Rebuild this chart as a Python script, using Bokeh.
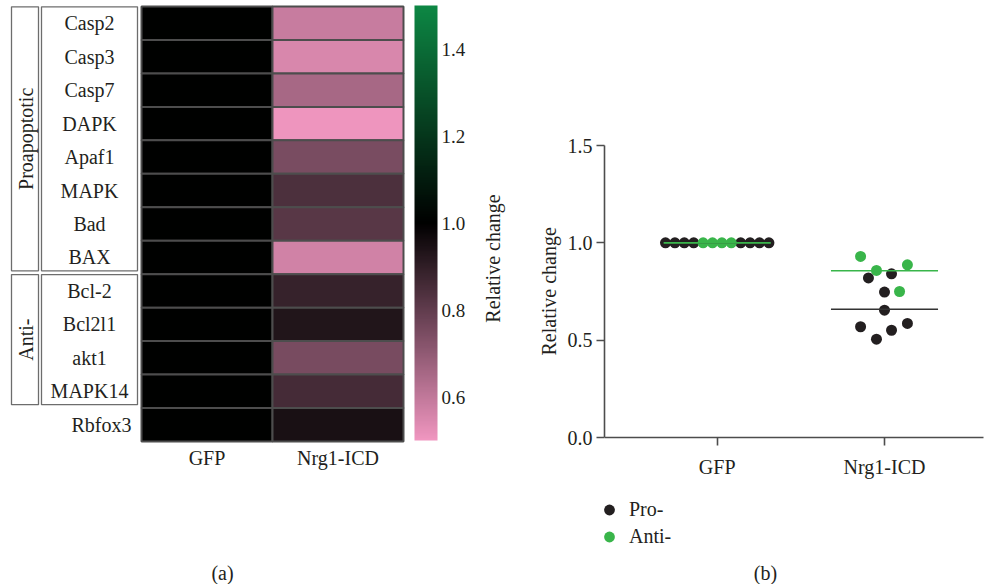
import numpy as np
from bokeh.plotting import figure
from bokeh.layouts import row
from bokeh.models import (Range1d, ColumnDataSource, LinearColorMapper, ColorBar,
                          FixedTicker, PrintfTickFormatter, Label, Title)
from bokeh.core.properties import value
from bokeh.embed import file_html
from bokeh.resources import INLINE

# ---------------- data ----------------
genes = ["Casp2", "Casp3", "Casp7", "DAPK", "Apaf1", "MAPK", "Bad", "BAX",
         "Bcl-2", "Bcl2l1", "akt1", "MAPK14", "Rbfox3"]
conditions = ["GFP", "Nrg1-ICD"]
heat_gfp = [1.0] * 13
heat_nrg = [0.586, 0.551, 0.654, 0.505, 0.747, 0.841, 0.820, 0.569,
            0.887, 0.930, 0.750, 0.858, 0.947]
groups = ["Proapoptotic", "Anti-"]
group_sizes = [8, 4]
cbar_ticks = [0.6, 0.8, 1.0, 1.2, 1.4]

pro_gfp = [1.0] * 8
anti_gfp = [1.0] * 4
pro_nrg = [0.820, 0.841, 0.747, 0.654, 0.569, 0.505, 0.551, 0.586]
anti_nrg = [0.930, 0.858, 0.887, 0.750]
# beeswarm offsets (in category widths)
pro_nrg_jitter = [-0.096, 0.042, 0.0, 0.0, -0.143, -0.048, 0.042, 0.137]
anti_nrg_jitter = [-0.143, -0.048, 0.137, 0.09]
y_ticks = [0.0, 0.5, 1.0, 1.5]

FONT = "Liberation Serif"
TXT = "#231f20"
H = 584

# ---------------- palette ----------------
pink = np.array([240, 150, 192])
green = np.array([13, 135, 68])
palette = []
for v in np.linspace(0.5, 1.5, 256):
    if v < 1:
        c = pink * ((1 - v) / 0.5)
    else:
        c = green * ((v - 1) / 0.5)
    c = np.clip(np.round(c), 0, 255).astype(int)
    palette.append("#%02x%02x%02x" % tuple(c))
mapper = LinearColorMapper(palette=palette, low=0.5, high=1.5)

# ---------------- (a) heatmap ----------------
WA = 508
CW = 131.0
X0 = 141.0          # left edge of heatmap (px)
Y0 = 6.0            # top edge of heatmap (px)
RH = 435.0 / 13     # row height (px)
p1 = figure(width=WA, height=H, output_backend="svg", toolbar_location=None,
            x_range=Range1d(-X0 / CW, (WA - X0) / CW),
            y_range=Range1d((H - Y0) / RH, -Y0 / RH),
            x_axis_location=None, y_axis_location=None,
            min_border=0, outline_line_color=None)
p1.grid.visible = False
p1.frame_align = False

def px2x(px):
    return (px - X0) / CW

def px2y(py):
    return (py - Y0) / RH

xs, ys, vals = [], [], []
for j, g in enumerate(genes):
    for i, col in enumerate([heat_gfp, heat_nrg]):
        xs.append(i + 0.5)
        ys.append(j + 0.5)
        vals.append(col[j])
src = ColumnDataSource(dict(x=xs, y=ys, v=vals))
p1.rect(x="x", y="y", width=1, height=1, source=src,
        fill_color={"field": "v", "transform": mapper},
        line_color="#4d4d4d", line_width=2)

# gene labels
nlab = sum(group_sizes)
p1.text(x=[px2x(89)] * nlab, y=[j + 0.5 for j in range(nlab)], text=genes[:nlab],
        text_align="center", text_baseline="middle", text_color=TXT,
        text_font=value(FONT), text_font_size=value("20px"))
p1.text(x=[px2x(131)], y=[nlab + 0.5], text=genes[nlab:],
        text_align="right", text_baseline="middle", text_color=TXT,
        text_font=value(FONT), text_font_size=value("20px"))

# group boxes
starts = np.cumsum([0] + group_sizes[:-1])
tops = [s + 0.01 for s in starts]
bots = [s + n - 0.1 for s, n in zip(starts, group_sizes)]
p1.quad(left=[px2x(11)] * 2, right=[px2x(38)] * 2, top=tops, bottom=bots,
        fill_color=None, line_color="#6d6d6d", line_width=1.3)
p1.quad(left=[px2x(41)] * 2, right=[px2x(137)] * 2, top=tops, bottom=bots,
        fill_color=None, line_color="#6d6d6d", line_width=1.3)
p1.text(x=[px2x(25)] * 2, y=[(t + b) / 2 for t, b in zip(tops, bots)], text=groups,
        angle=np.pi / 2, text_align="center", text_baseline="middle", text_color=TXT,
        text_font=value(FONT), text_font_size=value("20px"))

# column labels
p1.text(x=[0.5, 1.5], y=[px2y(457)] * 2, text=conditions, text_align="center",
        text_baseline="middle", text_color=TXT, text_font=value(FONT),
        text_font_size=value("20px"))

cb = ColorBar(color_mapper=mapper, orientation="vertical", location=(414, H - 440),
              width=23, height=435, padding=0, margin=0,
              ticker=FixedTicker(ticks=cbar_ticks),
              formatter=PrintfTickFormatter(format="%.1f"),
              major_tick_line_color=None, minor_tick_line_color=None,
              bar_line_color=None, border_line_color=None,
              background_fill_color=None, label_standoff=4,
              major_label_text_font=FONT, major_label_text_font_size="19px",
              major_label_text_color=TXT)
p1.add_layout(cb)
p1.add_layout(Label(x=492, y=H - 258, x_units="screen", y_units="screen",
                    text="Relative change", angle=np.pi / 2, text_align="center",
                    text_baseline="middle", text_font=FONT, text_font_size="20px",
                    text_color=TXT))
p1.add_layout(Label(x=222, y=H - 572, x_units="screen", y_units="screen", text="(a)",
                    text_align="center", text_baseline="middle", text_font=FONT,
                    text_font_size="20px", text_color=TXT))

# ---------------- (b) dot plot ----------------
WB = 477
PX = 167.3          # px per category step
PY = 194.7          # px per unit of relative change
AX_L, AX_T, AX_B = 604, 145, 437   # axis positions on the page (px)
LB = AX_L - WA
xstart = 1 - (716.7 - AX_L) / PX
ybottom = -(H - AX_B) / PY
p2 = figure(width=WB, height=H, output_backend="svg", toolbar_location=None,
            x_range=Range1d(xstart, xstart + (WB - LB) / PX),
            y_range=Range1d(ybottom, 1.5),
            min_border_left=LB, min_border_right=0, min_border_top=AX_T,
            min_border_bottom=0, outline_line_color=None)
p2.grid.visible = False
p2.frame_align = False

step = 9.4 / PX
gfp_off = [(k - 5.5) * step for k in range(12)]
pro_x = [1 + o for o in gfp_off[:4] + gfp_off[8:]] + [2 + o for o in pro_nrg_jitter]
pro_y = pro_gfp + pro_nrg
anti_x = [1 + o for o in gfp_off[4:8]] + [2 + o for o in anti_nrg_jitter]
anti_y = anti_gfp + anti_nrg

BLACK = "#231f20"
GREEN = "#39b54a"
p2.scatter(pro_x, pro_y, size=11, fill_color=BLACK, line_color=None, legend_label="Pro-")
p2.scatter(anti_x, anti_y, size=11, fill_color=GREEN, line_color=None, legend_label="Anti-")

hw = 0.32
pm = [np.mean(pro_gfp), np.mean(pro_nrg)]
am = [np.mean(anti_gfp), np.mean(anti_nrg)]
p2.segment(x0=[1 - hw, 2 - hw], x1=[1 + hw, 2 + hw], y0=pm, y1=pm,
           line_color="#333333", line_width=1.6)
p2.segment(x0=[1 - hw, 2 - hw], x1=[1 + hw, 2 + hw], y0=am, y1=am,
           line_color=GREEN, line_width=1.6)

for ax in (p2.xaxis[0], p2.yaxis[0]):
    ax.axis_line_color = "#4d4d4d"
    ax.axis_line_width = 1.6
    ax.major_tick_line_color = "#4d4d4d"
    ax.major_tick_line_width = 1.6
    ax.major_tick_out = 8
    ax.major_tick_in = 0
    ax.minor_tick_line_color = None
    ax.major_label_text_font = FONT
    ax.major_label_text_font_size = "20px"
    ax.major_label_text_color = TXT
p2.xaxis.ticker = FixedTicker(ticks=[1, 2])
p2.xaxis.major_label_overrides = {1: conditions[0], 2: conditions[1]}
p2.xaxis.major_label_standoff = 10
p2.xaxis.fixed_location = 0
p2.xaxis.bounds = (xstart, 1 + (983 - 716.7) / PX)
p2.yaxis.ticker = FixedTicker(ticks=y_ticks)
p2.yaxis.formatter = PrintfTickFormatter(format="%.1f")
p2.yaxis.bounds = (0, 1.5)
p2.yaxis.major_label_standoff = 4

# y axis title, centred on the 0..1.5 span of the axis
axis_mid = (AX_T + AX_B) / 2
half_len = 64
p2.add_layout(Title(text="Relative change", align="left", offset=H - (axis_mid + half_len),
                    standoff=9, text_font=FONT, text_font_size="20px",
                    text_font_style="normal", text_color=TXT), "left")

lg = p2.legend[0]
lg.location = (-9, H - 549.5)
lg.padding = 0
lg.margin = 0
lg.spacing = 0
lg.glyph_width = 28
lg.glyph_height = 27
lg.label_height = 27
lg.label_standoff = 6
lg.border_line_color = None
lg.background_fill_alpha = 0
lg.label_text_font = FONT
lg.label_text_font_size = "20px"
lg.label_text_color = TXT

p2.add_layout(Label(x=765 - AX_L, y=H - 572, x_units="screen", y_units="screen",
                    text="(b)", text_align="center", text_baseline="middle",
                    text_font=FONT, text_font_size="20px", text_color=TXT))

layout = row(p1, p2, spacing=0)
open("out.html", "w").write(file_html(layout, INLINE))
